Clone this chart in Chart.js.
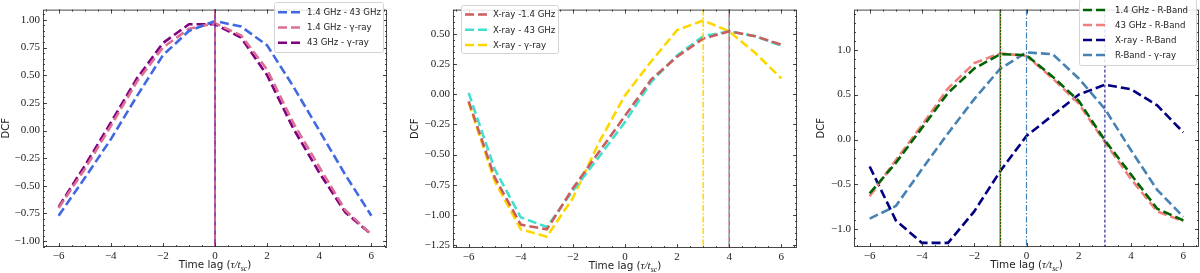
<!DOCTYPE html>
<html>
<head>
<meta charset="utf-8">
<script src="https://cdn.jsdelivr.net/npm/chart.js@4.4.1/dist/chart.umd.min.js"></script>
<style>
    html, body { margin: 0; padding: 0; background: #fff; }
    #wrap { position: relative; width: 1200px; height: 273px; }
    canvas { position: absolute; top: 0; }
</style>
</head>
<body>
<div id="wrap">
    <canvas id="c1" width="400" height="273" style="left:0px"></canvas>
    <canvas id="c2" width="400" height="273" style="left:400px"></canvas>
    <canvas id="c3" width="400" height="273" style="left:800px"></canvas>
</div>
<script>
// ==================== DỮ LIỆU ====================
const lags = [-6, -5, -4, -3, -2, -1, 0, 1, 2, 3, 4, 5, 6];
const xTicks = [-6, -4, -2, 0, 2, 4, 6];

// Panel 1 - radio / gamma
const p1Labels = ['1.4 GHz - 43 GHz', '1.4 GHz - γ-ray', '43 GHz - γ-ray'];
const p1_14_43 = [-0.77, -0.43, -0.08, 0.31, 0.68, 0.90, 0.99, 0.94, 0.77, 0.40, 0.00, -0.40, -0.77];
const p1_14_gam = [-0.70, -0.35, 0.04, 0.44, 0.75, 0.92, 0.97, 0.86, 0.55, 0.07, -0.33, -0.72, -0.94];
const p1_43_gam = [-0.69, -0.32, 0.07, 0.47, 0.79, 0.96, 0.96, 0.84, 0.50, 0.02, -0.38, -0.74, -0.94];
const p1Peaks = [0, 0, 0];
const p1YTicks = [-1.00, -0.75, -0.50, -0.25, 0.00, 0.25, 0.50, 0.75, 1.00];

// Panel 2 - X-ray
const p2Labels = ['X-ray -1.4 GHz', 'X-ray - 43 GHz', 'X-ray - γ-ray'];
const p2_x_14 = [-0.06, -0.69, -1.08, -1.12, -0.78, -0.48, -0.18, 0.12, 0.31, 0.46, 0.52, 0.48, 0.41];
const p2_x_43 = [0.01, -0.62, -1.02, -1.10, -0.80, -0.52, -0.23, 0.10, 0.32, 0.48, 0.52, 0.48, 0.40];
const p2_x_gam = [-0.07, -0.72, -1.12, -1.18, -0.86, -0.40, -0.01, 0.27, 0.53, 0.61, 0.52, 0.34, 0.13];
const p2Peaks = [4, 4, 3];
const p2YTicks = [-1.25, -1.00, -0.75, -0.50, -0.25, 0.00, 0.25, 0.50];

// Panel 3 - R-Band
const p3Labels = ['1.4 GHz - R-Band', '43 GHz - R-Band', 'X-ray - R-Band', 'R-Band - γ-ray'];
const p3_14_R = [-0.60, -0.26, 0.13, 0.52, 0.79, 0.95, 0.94, 0.70, 0.43, -0.01, -0.39, -0.77, -0.90];
const p3_43_R = [-0.63, -0.23, 0.16, 0.57, 0.85, 0.96, 0.93, 0.68, 0.40, -0.03, -0.44, -0.80, -0.91];
const p3_x_R = [-0.30, -0.90, -1.15, -1.15, -0.80, -0.35, 0.04, 0.27, 0.50, 0.61, 0.56, 0.38, 0.08];
const p3_R_gam = [-0.88, -0.74, -0.33, 0.07, 0.45, 0.79, 0.97, 0.95, 0.68, 0.34, -0.12, -0.56, -0.86];
const p3Peaks = [-1, -1, 3, 0];
const p3YTicks = [-1.0, -0.5, 0.0, 0.5, 1.0];

const SERIF = '"Liberation Serif", "DejaVu Serif", serif';
const SANS = '"DejaVu Sans", sans-serif';
const DASH = [9, 4];

const fmt = (v, d) => (v < 0 ? '\u2212' : '') + Math.abs(v).toFixed(d);

// ==================== PLUGINS ====================
// khung + tick hướng vào trong, 4 cạnh
const frameTicks = {
    id: 'frameTicks',
    afterDatasetsDraw(chart, args, o) {
        const { ctx, chartArea: a, scales: { x, y } } = chart;
        ctx.save();
        ctx.strokeStyle = '#333';
        ctx.lineWidth = 0.9;
        ctx.beginPath();
        const tickX = (v, len) => {
            const px = Math.round(x.getPixelForValue(v)) + 0.5;
            ctx.moveTo(px, a.bottom); ctx.lineTo(px, a.bottom - len);
            ctx.moveTo(px, a.top); ctx.lineTo(px, a.top + len);
        };
        const tickY = (v, len) => {
            const py = Math.round(y.getPixelForValue(v)) + 0.5;
            ctx.moveTo(a.left, py); ctx.lineTo(a.left + len, py);
            ctx.moveTo(a.right, py); ctx.lineTo(a.right - len, py);
        };
        for (let v = Math.ceil(x.min / o.xMinor) * o.xMinor; v <= x.max; v += o.xMinor) tickX(v, 2);
        for (let v = Math.ceil(y.min / o.yMinor) * o.yMinor; v <= y.max + 1e-9; v += o.yMinor) tickY(v, 2);
        x.ticks.forEach(t => tickX(t.value, 4));
        y.ticks.forEach(t => tickY(t.value, 4));
        ctx.stroke();
        ctx.strokeRect(a.left + 0.5, a.top + 0.5, a.width - 1, a.height - 1);
        ctx.restore();
    }
};

// đường dọc đánh dấu độ trễ cực đại
const vLines = {
    id: 'vLines',
    afterDatasetsDraw(chart, args, o) {
        const { ctx, chartArea: a, scales: { x } } = chart;
        ctx.save();
        (o.lines || []).forEach(l => {
            const px = x.getPixelForValue(l.x);
            ctx.beginPath();
            ctx.strokeStyle = l.color;
            ctx.lineWidth = l.width;
            ctx.setLineDash(l.dash);
            ctx.moveTo(px, a.top);
            ctx.lineTo(px, a.bottom);
            ctx.stroke();
        });
        ctx.restore();
    }
};

// chú thích kiểu matplotlib
const boxLegend = {
    id: 'boxLegend',
    afterDraw(chart, args, o) {
        const { ctx } = chart;
        const sets = chart.data.datasets;
        ctx.save();
        ctx.fillStyle = 'rgba(255,255,255,0.85)';
        ctx.strokeStyle = '#d4d4d4';
        ctx.lineWidth = 1;
        ctx.beginPath();
        ctx.roundRect(o.x + 0.5, o.y + 0.5, o.w, o.h, 2);
        ctx.fill();
        ctx.stroke();
        ctx.font = '8.6px ' + SANS;
        ctx.textBaseline = 'middle';
        ctx.fillStyle = '#222';
        sets.forEach((d, i) => {
            const ry = o.y + o.first + i * o.step;
            ctx.beginPath();
            ctx.strokeStyle = d.borderColor;
            ctx.lineWidth = 2.5;
            ctx.setLineDash(DASH);
            ctx.moveTo(o.x + 4, ry);
            ctx.lineTo(o.x + 26, ry);
            ctx.stroke();
            ctx.setLineDash([]);
            ctx.fillText(d.label, o.x + o.textOff, ry + 0.5);
        });
        ctx.restore();
    }
};

// tiêu đề trục x: Time lag (τ/t_sc)
const xTitle = {
    id: 'xTitle',
    afterDraw(chart) {
        const { ctx, chartArea: a } = chart;
        const parts = [
            { t: 'Time lag (', f: '10.4px ' + SANS, dy: 0 },
            { t: 'τ/t', f: 'italic 11px ' + SERIF, dy: 0 },
            { t: 'sc', f: 'italic 8px ' + SERIF, dy: 2.5 },
            { t: ')', f: '10.4px ' + SANS, dy: 0 }
        ];
        ctx.save();
        ctx.fillStyle = '#222';
        ctx.textBaseline = 'alphabetic';
        let w = 0;
        parts.forEach(p => { ctx.font = p.f; p.w = ctx.measureText(p.t).width; w += p.w; });
        let cx = (a.left + a.right) / 2 - w / 2;
        const by = a.bottom + 21;
        parts.forEach(p => { ctx.font = p.f; ctx.fillText(p.t, cx, by + p.dy); cx += p.w; });
        ctx.restore();
    }
};

// ==================== TẠO BIỂU ĐỒ ====================
function makePanel(id, cfg) {
    const datasets = cfg.series.map((vals, i) => ({
        label: cfg.labels[i],
        data: lags.map((l, k) => ({ x: l, y: vals[k] })),
        borderColor: cfg.colors[i],
        backgroundColor: cfg.colors[i],
        borderWidth: 2.6,
        borderDash: DASH,
        pointRadius: 0,
        tension: 0,
        fill: false
    }));
    return new Chart(document.getElementById(id), {
        type: 'line',
        data: { datasets },
        options: {
            responsive: false,
            animation: false,
            events: [],
            layout: { padding: { left: 0, top: cfg.area.top, right: 400 - cfg.area.right, bottom: 0 } },
            plugins: {
                legend: { display: false },
                tooltip: { enabled: false },
                frameTicks: { xMinor: 0.5, yMinor: cfg.yMinor },
                vLines: { lines: cfg.vlines },
                boxLegend: cfg.legend
            },
            scales: {
                x: {
                    type: 'linear',
                    min: -6.6,
                    max: 6.6,
                    afterBuildTicks: s => { s.ticks = xTicks.map(v => ({ value: v })); },
                    afterFit: s => { s.height = 273 - cfg.area.bottom; },
                    grid: { display: false, drawTicks: false },
                    border: { display: false },
                    ticks: {
                        padding: 2.5,
                        maxRotation: 0,
                        color: '#222',
                        font: { family: SERIF, size: 11 },
                        callback: v => fmt(v, 0)
                    }
                },
                y: {
                    min: cfg.yMin,
                    max: cfg.yMax,
                    afterBuildTicks: s => { s.ticks = cfg.yTicks.map(v => ({ value: v })); },
                    afterFit: s => { s.width = cfg.area.left; },
                    grid: { display: false, drawTicks: false },
                    border: { display: false },
                    title: {
                        display: true,
                        text: 'DCF',
                        color: '#222',
                        font: { family: SANS, size: 10 },
                        padding: { top: cfg.yTitlePad, bottom: 0 }
                    },
                    ticks: {
                        padding: 3,
                        color: '#222',
                        font: { family: SERIF, size: 11 },
                        callback: v => fmt(v, cfg.dec)
                    }
                }
            }
        },
        plugins: [vLines, frameTicks, boxLegend, xTitle]
    });
}

makePanel('c1', {
    labels: p1Labels,
    series: [p1_14_43, p1_14_gam, p1_43_gam],
    colors: ['#4169e1', '#db7093', '#800080'],
    area: { left: 43, right: 387, top: 0, bottom: 247 },
    yMin: -1.053, yMax: 1.093, yTicks: p1YTicks, yMinor: 0.05, dec: 2, yTitlePad: 0,
    vlines: [
        { x: p1Peaks[2], color: '#800080', width: 1.5, dash: [] },
        { x: p1Peaks[1], color: '#db7093', width: 1.5, dash: [5, 4] },
        { x: p1Peaks[0], color: '#4169e1', width: 1.2, dash: [1.5, 7] }
    ],
    legend: { x: 274, y: 2, w: 109, h: 50, first: 10.3, step: 15.2, textOff: 33 }
});

makePanel('c2', {
    labels: p2Labels,
    series: [p2_x_14, p2_x_43, p2_x_gam],
    colors: ['#cd5c5c', '#40e0d0', '#ffd700'],
    area: { left: 53, right: 397, top: 2, bottom: 248 },
    yMin: -1.274, yMax: 0.70, yTicks: p2YTicks, yMinor: 0.05, dec: 2, yTitlePad: 9,
    vlines: [
        { x: p2Peaks[2], color: '#ffd700', width: 1.5, dash: [6, 2, 1.5, 2] },
        { x: p2Peaks[0], color: '#cd5c5c', width: 1.5, dash: [] },
        { x: p2Peaks[1], color: '#40e0d0', width: 1.5, dash: [3, 5] }
    ],
    legend: { x: 61, y: 5, w: 97, h: 48, first: 9.5, step: 15.3, textOff: 32 }
});

makePanel('c3', {
    labels: p3Labels,
    series: [p3_14_R, p3_43_R, p3_x_R, p3_R_gam],
    colors: ['#006400', '#f08080', '#000080', '#4682b4'],
    area: { left: 54, right: 399, top: 0, bottom: 247 },
    yMin: -1.196, yMax: 1.446, yTicks: p3YTicks, yMinor: 0.1, dec: 1, yTitlePad: 15.5,
    vlines: [
        { x: p3Peaks[0], color: '#006400', width: 1.5, dash: [] },
        { x: p3Peaks[1], color: '#f08080', width: 1.2, dash: [1.2, 2] },
        { x: p3Peaks[3], color: '#4682b4', width: 1.2, dash: [6, 2, 1.5, 2] },
        { x: p3Peaks[2], color: '#000080', width: 1.0, dash: [3, 2] }
    ],
    legend: { x: 279, y: -1, w: 117, h: 66, first: 11, step: 15, textOff: 36 }
});
</script>
</body>
</html>
